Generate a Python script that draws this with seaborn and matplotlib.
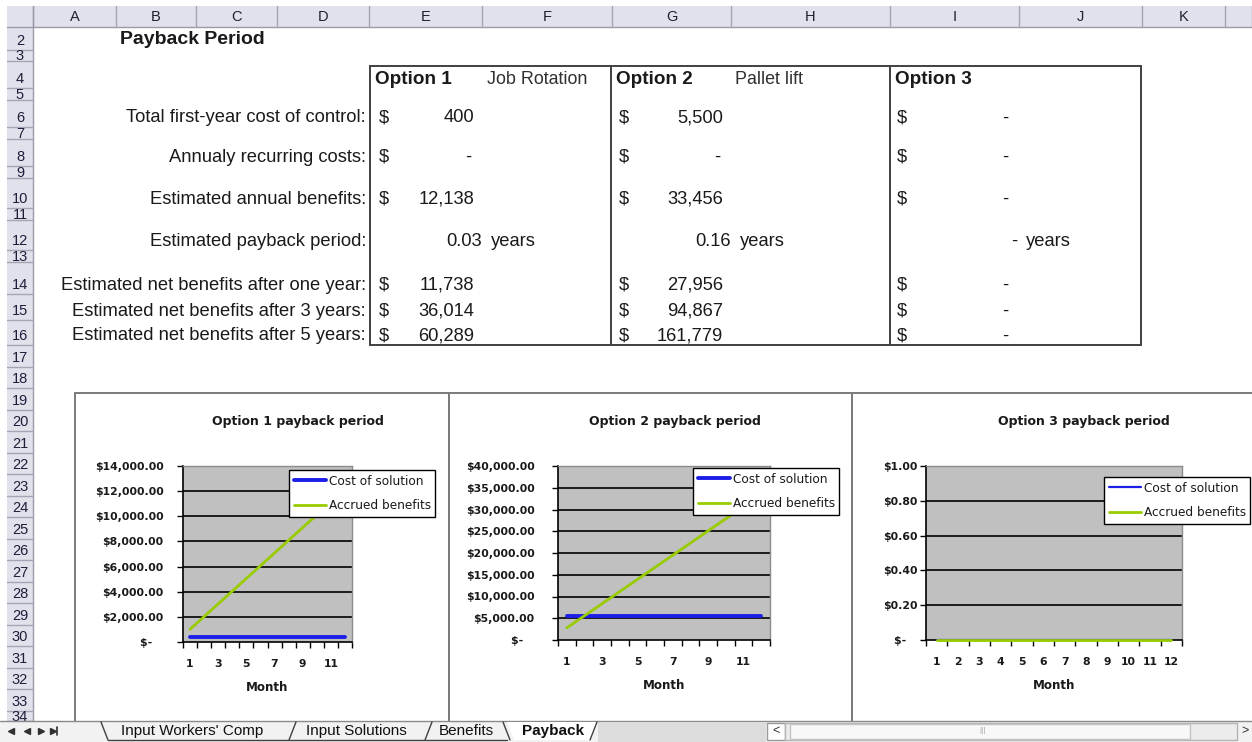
import matplotlib
matplotlib.use("Agg")
import matplotlib.pyplot as plt
from matplotlib.patches import Rectangle, Polygon
import seaborn as sns
import pandas as pd

# ---- sheet table values ----
option_names = ["Option 1", "Option 2", "Option 3"]
solution_names = ["Job Rotation", "Pallet lift", ""]
row_labels = ["Total first-year cost of control:", "Annualy recurring costs:",
              "Estimated annual benefits:", "Estimated payback period:",
              "Estimated net benefits after one year:",
              "Estimated net benefits after 3 years:",
              "Estimated net benefits after 5 years:"]
first_year_cost = [400, 5500, 0]
recurring_costs = [0, 0, 0]
annual_benefits = [12138, 33456, 0]
payback_years = [0.03, 0.16, 0]
net_after_1yr = [11738, 27956, 0]
net_after_3yr = [36014, 94867, 0]
net_after_5yr = [60289, 161779, 0]

# ---- chart series by month ----
months = [1, 2, 3, 4, 5, 6, 7, 8, 9, 10, 11, 12]
opt1_cost = [400, 400, 400, 400, 400, 400, 400, 400, 400, 400, 400, 400]
opt1_benefits = [1011.5, 2023, 3034.5, 4046, 5057.5, 6069, 7080.5, 8092, 9103.5, 10115, 11126.5, 12138]
opt2_cost = [5500, 5500, 5500, 5500, 5500, 5500, 5500, 5500, 5500, 5500, 5500, 5500]
opt2_benefits = [2788, 5576, 8364, 11152, 13940, 16728, 19516, 22304, 25092, 27880, 30668, 33456]
opt3_cost = [0, 0, 0, 0, 0, 0, 0, 0, 0, 0, 0, 0]
opt3_benefits = [0, 0, 0, 0, 0, 0, 0, 0, 0, 0, 0, 0]
opt1_yticks = [0, 2000, 4000, 6000, 8000, 10000, 12000, 14000]
opt2_yticks = [0, 5000, 10000, 15000, 20000, 25000, 30000, 35000, 40000]
opt3_yticks = [0, 0.2, 0.4, 0.6, 0.8, 1.0]

sheet_tabs = ["Input Workers' Comp", "Input Solutions", "Benefits", "Payback"]
col_letters = ["A", "B", "C", "D", "E", "F", "G", "H", "I", "J", "K", ""]

# ---- sheet geometry (pixels) ----
W, H = 1252, 742
col_edges = [33, 116, 196, 277, 369, 482, 612, 731, 890, 1019, 1142, 1225, 1252]
row_edges = [27, 50, 61, 88, 100, 127, 139, 166, 178, 208, 220, 250, 262, 294, 320, 345,
             367, 388, 410, 431, 453, 474, 496, 517, 539, 560, 582, 603, 625, 646, 668, 689, 711, 721]
HDR = "#e1e1eb"
HDR_LINE = "#a4a4b4"
INK = "#1a1a1a"
TXT = 13.2

sns.set_style("white")
plt.rcParams["font.family"] = ["Liberation Sans", "DejaVu Sans"]

fig = plt.figure(figsize=(W / 100, H / 100), dpi=100)
bg = fig.add_axes([0, 0, 1, 1])
bg.set_xlim(0, W)
bg.set_ylim(H, 0)
bg.axis("off")
bg.set_zorder(-1)


def row_y(r):
    top, bot = row_edges[r - 2], row_edges[r - 1]
    return max((top + bot) / 2, bot - 10)


# column header band
bg.add_patch(Rectangle((7, 6), W - 7, 21, fc=HDR, ec="none"))
bg.plot([7, W], [27, 27], color="#9a9aaa", lw=1)
for x in col_edges:
    bg.plot([x, x], [6, 27], color=HDR_LINE, lw=1)
for i, letter in enumerate(col_letters):
    bg.text((col_edges[i] + col_edges[i + 1]) / 2, 17, letter, ha="center", va="center",
            fontsize=10.5, color="#1e1e2e")

# row header band
bg.add_patch(Rectangle((7, 27), 26, 694, fc=HDR, ec="none"))
bg.plot([33, 33], [6, 721], color="#9a9aaa", lw=1)
for k, r in enumerate(range(2, 35)):
    top, bot = row_edges[k], row_edges[k + 1]
    bg.plot([7, 33], [bot, bot], color=HDR_LINE, lw=1)
    clip = Rectangle((7, top), 26, bot - top, transform=bg.transData)
    t = bg.text(20, row_y(r) + 1, str(r), ha="center", va="center", fontsize=10.5,
                color="#1e1e3c", clip_on=True)
    t.set_clip_path(clip)

# title and table
bg.text(120, 40, "Payback Period", fontsize=14, fontweight="bold", va="center", color=INK)
bg.add_patch(Rectangle((370, 66), 771, 279, fill=False, ec="#404040", lw=1.4))
for x in (611, 890):
    bg.plot([x, x], [66, 345], color="#404040", lw=1.4)

opt_left = [375, 616, 895]
sol_left = [487, 735, 0]
dollar_x = [379, 619, 897]
value_right = [474, 723, 1011]
payback_right = [482, 731, 1017]
for j in range(3):
    bg.text(opt_left[j], row_y(4) + 1, option_names[j], fontsize=13.6, fontweight="bold",
            va="center", color=INK)
    if solution_names[j]:
        bg.text(sol_left[j], row_y(4) + 1, solution_names[j], fontsize=12.9, va="center",
                color="#303030")

table_rows = [6, 8, 10, 12, 14, 15, 16]
for r, label in zip(table_rows, row_labels):
    bg.text(366, row_y(r) + 1, label, ha="right", va="center", fontsize=TXT, color=INK)

money_rows = [(6, first_year_cost), (8, recurring_costs), (10, annual_benefits),
              (14, net_after_1yr), (15, net_after_3yr), (16, net_after_5yr)]
for r, vals in money_rows:
    for j, v in enumerate(vals):
        y = row_y(r) + 1
        bg.text(dollar_x[j], y, "$", fontsize=TXT, va="center", color=INK)
        txt = f"{v:,.0f}" if v else "-"
        xr = value_right[j] if v else value_right[j] - 3
        bg.text(xr, y, txt, ha="right", va="center", fontsize=TXT, color=INK)
for j, v in enumerate(payback_years):
    y = row_y(12) + 1
    bg.text(payback_right[j], y, f"{v:.2f}" if v else "-", ha="right", va="center",
            fontsize=TXT, color=INK)
    bg.text(payback_right[j] + 9, y, "years", va="center", fontsize=TXT, color=INK)

# chart frames
for fx, fw in [(75, 374), (449, 403), (852, 420)]:
    bg.add_patch(Rectangle((fx, 393), fw, 340, fc="white", ec="#7a7a7a", lw=1.4))


def dollars(v):
    return "$-   " if v == 0 else f"${v:,.2f}"


def payback_chart(box, cost, benefits, yticks, title, title_cx, legend_xy, odd_only, ypad,
                  cost_lw=2.8):
    x0, y0, x1, y1 = box
    ax = fig.add_axes([x0 / W, 1 - y1 / H, (x1 - x0) / W, (y1 - y0) / H])
    ax.set_facecolor("#c0c0c0")
    df = pd.DataFrame({"Month": months, "Cost": cost, "Benefits": benefits})
    for yv in yticks[1:-1]:
        ax.axhline(yv, color="#1c1c1c", lw=1.4, zorder=1)
    sns.lineplot(data=df, x="Month", y="Cost", ax=ax, color="#1d1de8", lw=cost_lw,
                 label="Cost of solution", zorder=3, clip_on=False)
    sns.lineplot(data=df, x="Month", y="Benefits", ax=ax, color="#99cc00", lw=2.0,
                 label="Accrued benefits", zorder=4, clip_on=False)
    ax.set_xlim(0.5, 12.5)
    ax.set_ylim(yticks[0], yticks[-1])

    ax.set_xticks([m - 0.5 for m in months] + [12.5])
    ax.set_xticklabels([])
    ax.set_xticks(months, minor=True)
    xl = [str(m) if (m % 2 == 1 or not odd_only) else "" for m in months]
    ax.set_xticklabels(xl, minor=True, fontsize=7.8, fontweight="bold", family="DejaVu Sans",
                       color=INK)
    ax.tick_params(axis="x", which="major", bottom=True, direction="out", length=4, width=1,
                   color="black")
    ax.tick_params(axis="x", which="minor", bottom=True, length=0, pad=12)

    ax.set_yticks(yticks)
    ax.set_yticklabels([dollars(v) for v in yticks], fontsize=7.8, fontweight="bold",
                       family="DejaVu Sans", color=INK)
    ax.tick_params(axis="y", left=True, direction="out", length=4, width=1, color="black",
                   pad=ypad)

    for side in ("left", "bottom"):
        ax.spines[side].set_color("black")
        ax.spines[side].set_linewidth(1.2)
    for side in ("top", "right"):
        ax.spines[side].set_color("#8c8c8c")
        ax.spines[side].set_linewidth(1)

    ax.set_ylabel("")
    ax.set_xlabel("Month", fontsize=8.6, fontweight="bold", family="DejaVu Sans", labelpad=9,
                  color=INK)

    leg = ax.legend(loc="upper left", bbox_to_anchor=legend_xy, bbox_transform=bg.transData,
                    frameon=True, fancybox=False, edgecolor="black", framealpha=1,
                    borderpad=0.38, handlelength=2.7, handletextpad=0.2, labelspacing=0.95,
                    borderaxespad=0, prop={"family": "DejaVu Sans", "size": 8.7})
    leg.get_frame().set_linewidth(1.0)
    for txt in leg.get_texts():
        txt.set_color(INK)
    bg.text(title_cx, 422, title, ha="center", va="center", fontsize=9,
            fontweight="bold", family="DejaVu Sans", color=INK)
    return ax


payback_chart((183, 466, 352, 642), opt1_cost, opt1_benefits, opt1_yticks,
              "Option 1 payback period", 298, (289, 470), True, 10)
payback_chart((558, 466, 770, 640), opt2_cost, opt2_benefits, opt2_yticks,
              "Option 2 payback period", 675, (693, 468), True, 13)
payback_chart((926, 466, 1182, 640), opt3_cost, opt3_benefits, opt3_yticks,
              "Option 3 payback period", 1084, (1104, 477), False, 2, cost_lw=1.6)

# sheet tab bar
bg.add_patch(Rectangle((0, 721), W, 21, fc="#f2f2f2", ec="none", zorder=5))
bg.plot([0, W], [721, 721], color="#8a8a8a", lw=1, zorder=6)
bg.add_patch(Rectangle((598, 722), 168, 20, fc="#dcdcdc", ec="none", zorder=6))
for mx, mk in [(11, "<"), (27, "<"), (41, ">"), (53, ">")]:
    bg.plot([mx], [731], marker=mk, ms=4, color="#303030", zorder=7)
bg.plot([57, 57], [727, 735], color="#303030", lw=1.2, zorder=7)

tab_cx = [192, 356, 466, 553]
tab_edges = [(101, 108), (296, 289), (432, 425), (503, 510), (597, 590)]
bg.add_patch(Polygon([(507, 722), (597, 722), (590, 740), (514, 740)], fc="white", ec="none", zorder=6))
for xa, xb in tab_edges:
    bg.plot([xa, xb], [722, 740], color="#404040", lw=1, zorder=7)
bg.plot([108, 507], [740, 740], color="#404040", lw=1, zorder=7)
for cx, name in zip(tab_cx, sheet_tabs):
    bg.text(cx, 731, name, ha="center", va="center", fontsize=11, zorder=8,
            fontweight="bold" if name == "Payback" else "normal", color="#101010")

# horizontal scroll bar
bg.add_patch(Rectangle((767, 723), 18, 17, fc="white", ec="#9a9a9a", lw=1, zorder=7))
bg.text(776, 731, "<", ha="center", va="center", fontsize=9, zorder=8, color="#303030")
bg.add_patch(Rectangle((785, 723), 452, 17, fc="#ececec", ec="#b4b4b4", lw=1, zorder=7))
bg.add_patch(Rectangle((790, 724), 400, 15, fc="#f8f8f8", ec="#c4c4c4", lw=1, zorder=7))
bg.text(982, 731, "|||", ha="center", va="center", fontsize=6, zorder=8, color="#a0a0a0")
bg.text(1245, 731, ">", ha="center", va="center", fontsize=9, zorder=8, color="#303030")

fig.savefig("out.png", dpi=100)
